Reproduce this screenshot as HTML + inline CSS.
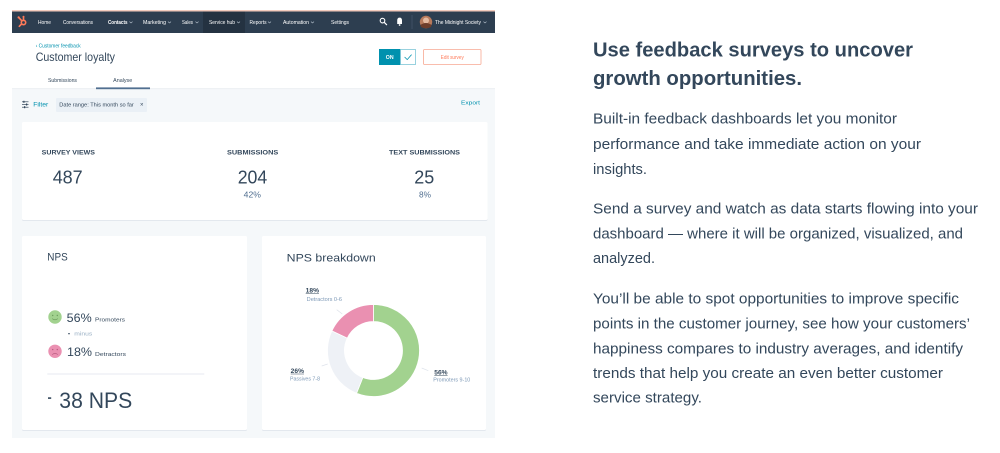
<!DOCTYPE html>
<html><head><meta charset="utf-8">
<style>
html,body{margin:0;padding:0;background:#fff;width:1000px;height:453px;overflow:hidden}
svg{display:block}
text{font-family:"Liberation Sans",Arial,sans-serif}
</style></head>
<body>
<svg width="1000" height="453" viewBox="0 0 1000 453" xmlns="http://www.w3.org/2000/svg">
<rect x="0" y="0" width="1000" height="453" fill="#fff"/>

<!-- ===== Left app screenshot ===== -->
<!-- nav -->
<rect x="12" y="10" width="483" height="1.6" fill="#f3cbbd"/>
<rect x="12" y="11.5" width="483" height="21.5" fill="#2d3e50"/>
<rect x="203" y="11.5" width="42" height="21.5" fill="#243241"/>
<!-- logo -->
<g fill="none" stroke="#ff7a59" stroke-width="1.6" stroke-linecap="round">
  <circle cx="23.5" cy="22.5" r="2.2"/>
  <line x1="21.8" y1="20.8" x2="18.8" y2="17.6"/>
  <line x1="23.5" y1="20.3" x2="23.5" y2="17"/>
  <line x1="21.6" y1="24" x2="19.3" y2="26.3"/>
</g>
<circle cx="18.6" cy="17.4" r="1.1" fill="#ff7a59"/>
<circle cx="23.5" cy="16.7" r="1" fill="#ff7a59"/>
<g fill="#ffffff" font-size="5.6">
  <text x="38" y="23.9" textLength="13" lengthAdjust="spacingAndGlyphs">Home</text>
  <text x="63" y="23.9" textLength="30" lengthAdjust="spacingAndGlyphs">Conversations</text>
  <text x="108" y="23.9" textLength="19.5" lengthAdjust="spacingAndGlyphs" font-weight="bold">Contacts</text>
  <text x="143" y="23.9" textLength="23" lengthAdjust="spacingAndGlyphs">Marketing</text>
  <text x="182" y="23.9" textLength="11" lengthAdjust="spacingAndGlyphs">Sales</text>
  <text x="209" y="23.9" textLength="26" lengthAdjust="spacingAndGlyphs">Service hub</text>
  <text x="249.5" y="23.9" textLength="17" lengthAdjust="spacingAndGlyphs">Reports</text>
  <text x="283" y="23.9" textLength="26" lengthAdjust="spacingAndGlyphs">Automation</text>
  <text x="331" y="23.9" textLength="18" lengthAdjust="spacingAndGlyphs">Settings</text>
  <text x="435" y="23.9" textLength="46" lengthAdjust="spacingAndGlyphs">The Midnight Society</text>
</g>
<g fill="none" stroke="#b8c4d0" stroke-width="0.6">
  <polyline points="129.5,21.6 131,23 132.5,21.6"/>
  <polyline points="168,21.6 169.5,23 171,21.6"/>
  <polyline points="195.5,21.6 197,23 198.5,21.6"/>
  <polyline points="237,21.6 238.5,23 240,21.6"/>
  <polyline points="268,21.6 269.5,23 271,21.6"/>
  <polyline points="311,21.6 312.5,23 314,21.6"/>
  <polyline points="483.5,21.6 485,23 486.5,21.6"/>
</g>
<!-- search / bell / divider / avatar -->
<circle cx="382.5" cy="20.6" r="2.3" fill="none" stroke="#fff" stroke-width="1.1"/>
<line x1="384.2" y1="22.3" x2="386.6" y2="24.7" stroke="#fff" stroke-width="1.2" stroke-linecap="round"/>
<path d="M397.2 24 L397.2 20.5 Q397.2 17.6 399.6 17.6 Q402 17.6 402 20.5 L402 24 Z" fill="#fff"/>
<circle cx="399.6" cy="25" r="0.9" fill="#fff"/>
<line x1="412" y1="15" x2="412" y2="29" stroke="#4b5d71" stroke-width="0.6"/>
<circle cx="426" cy="22" r="6.2" fill="#b77a5c"/>
<circle cx="426" cy="20.5" r="3" fill="#e4b9a0"/>
<path d="M420.5 25 Q426 21 431.5 25 L431 27 Q426 29.5 421 27 Z" fill="#6e3d2b"/>

<!-- header white area -->
<text x="35.7" y="47.4" font-size="5" fill="#0091ae" textLength="45" lengthAdjust="spacingAndGlyphs">‹ Customer feedback</text>
<text x="35.7" y="61" font-size="12" fill="#33475b" textLength="79.3" lengthAdjust="spacingAndGlyphs">Customer loyalty</text>
<!-- toggle -->
<rect x="379" y="49" width="21.5" height="16" fill="#0091ae"/>
<rect x="400.5" y="49.5" width="15" height="15" fill="#fff" stroke="#7fc6d6" stroke-width="0.8"/>
<text x="389.7" y="59" font-size="5.2" font-weight="bold" fill="#fff" text-anchor="middle">ON</text>
<polyline points="404.6,57 407.2,59.6 411.6,54.6" fill="none" stroke="#0091ae" stroke-width="0.8"/>
<!-- edit survey -->
<rect x="423.5" y="49.5" width="57.5" height="15" fill="#fff" stroke="#f7a892" stroke-width="0.8" rx="1"/>
<text x="452.3" y="58.8" font-size="5" fill="#ff7a59" text-anchor="middle" textLength="23" lengthAdjust="spacingAndGlyphs">Edit survey</text>
<!-- tabs -->
<text x="62.5" y="81.8" font-size="5.2" fill="#33475b" text-anchor="middle" textLength="29" lengthAdjust="spacingAndGlyphs">Submissions</text>
<text x="122.7" y="81.8" font-size="5.2" fill="#33475b" text-anchor="middle" textLength="19" lengthAdjust="spacingAndGlyphs">Analyse</text>

<!-- gray app bg -->
<rect x="12" y="89" width="483" height="349" fill="#f5f8fa"/>
<rect x="12" y="88.3" width="483" height="0.8" fill="#e6ebf0"/>
<rect x="96" y="87.4" width="54" height="1.8" fill="#516f90"/>

<!-- filter row -->
<g stroke="#33475b" stroke-width="0.7">
  <line x1="22" y1="101.8" x2="28.5" y2="101.8"/>
  <line x1="22" y1="104.5" x2="28.5" y2="104.5"/>
  <line x1="22" y1="107.2" x2="28.5" y2="107.2"/>
</g>
<g fill="#33475b"><rect x="23.3" y="100.8" width="1.2" height="2"/><rect x="26" y="103.5" width="1.2" height="2"/><rect x="24" y="106.2" width="1.2" height="2"/></g>
<text x="33.3" y="106.5" font-size="6.2" fill="#0091ae" textLength="15" lengthAdjust="spacingAndGlyphs">Filter</text>
<rect x="56" y="98" width="91" height="14" fill="#eaf0f6" rx="1"/>
<text x="59.3" y="106.4" font-size="5.2" fill="#33475b" textLength="74.5" lengthAdjust="spacingAndGlyphs">Date range: This month so far</text>
<text x="141.7" y="106.6" font-size="6" fill="#33475b" text-anchor="middle">×</text>
<text x="461" y="104.6" font-size="5.6" fill="#0091ae" textLength="19" lengthAdjust="spacingAndGlyphs">Export</text>

<!-- cards -->
<g fill="#e3e8ee">
  <rect x="22" y="123" width="465.5" height="98" rx="1.5"/>
  <rect x="22" y="237" width="225" height="194" rx="1.5"/>
  <rect x="262" y="237" width="224" height="194" rx="1.5"/>
</g>
<g fill="#ffffff">
  <rect x="22" y="122" width="465.5" height="98" rx="1.5"/>
  <rect x="22" y="236" width="225" height="194" rx="1.5"/>
  <rect x="262" y="236" width="224" height="194" rx="1.5"/>
</g>

<!-- stats -->
<g fill="#33475b" font-weight="bold" font-size="6.6">
  <text x="41.7" y="154.5" textLength="53.3" lengthAdjust="spacingAndGlyphs">SURVEY VIEWS</text>
  <text x="227" y="154.5" textLength="51.3" lengthAdjust="spacingAndGlyphs">SUBMISSIONS</text>
  <text x="389" y="154.5" textLength="71" lengthAdjust="spacingAndGlyphs">TEXT SUBMISSIONS</text>
</g>
<g fill="#33475b" font-size="18.5">
  <text x="52.7" y="183.4" textLength="30" lengthAdjust="spacingAndGlyphs">487</text>
  <text x="237.7" y="183.4" textLength="29.6" lengthAdjust="spacingAndGlyphs">204</text>
  <text x="414.3" y="183.4" textLength="20" lengthAdjust="spacingAndGlyphs">25</text>
</g>
<g fill="#516f90" font-size="8.5">
  <text x="243.7" y="197.6" textLength="17.3" lengthAdjust="spacingAndGlyphs">42%</text>
  <text x="419" y="197.6" textLength="12" lengthAdjust="spacingAndGlyphs">8%</text>
</g>

<!-- NPS card -->
<text x="47.3" y="260.7" font-size="11.3" fill="#33475b" textLength="20.4" lengthAdjust="spacingAndGlyphs">NPS</text>
<circle cx="55" cy="317" r="6.7" fill="#a2d28f"/>
<circle cx="52.7" cy="315.5" r="0.7" fill="#6c9d5c"/>
<circle cx="57.3" cy="315.5" r="0.7" fill="#6c9d5c"/>
<path d="M52.2 318.6 Q55 321 57.8 318.6" fill="none" stroke="#6c9d5c" stroke-width="0.7"/>
<text x="66.7" y="321.8" font-size="12" fill="#33475b" textLength="25" lengthAdjust="spacingAndGlyphs">56%</text>
<text x="95" y="321.5" font-size="5.6" fill="#33475b" textLength="30" lengthAdjust="spacingAndGlyphs">Promoters</text>
<rect x="68" y="333.3" width="2" height="0.9" fill="#33475b"/>
<text x="74.3" y="335.6" font-size="5.5" fill="#99afc4" textLength="18" lengthAdjust="spacingAndGlyphs">minus</text>
<circle cx="55" cy="351.3" r="6.7" fill="#ea90b1"/>
<circle cx="52.7" cy="349.6" r="0.7" fill="#b95b80"/>
<circle cx="57.3" cy="349.6" r="0.7" fill="#b95b80"/>
<path d="M52.2 354.6 Q55 352.2 57.8 354.6" fill="none" stroke="#b95b80" stroke-width="0.7"/>
<text x="67" y="356.2" font-size="12" fill="#33475b" textLength="25" lengthAdjust="spacingAndGlyphs">18%</text>
<text x="95" y="356" font-size="5.6" fill="#33475b" textLength="31" lengthAdjust="spacingAndGlyphs">Detractors</text>
<line x1="47.3" y1="374" x2="204.3" y2="374" stroke="#dfe3eb" stroke-width="0.8"/>
<rect x="48" y="397.3" width="3.2" height="1.6" fill="#33475b"/>
<text x="59.3" y="408" font-size="22.5" fill="#33475b" textLength="73" lengthAdjust="spacingAndGlyphs">38 NPS</text>

<!-- Donut card -->
<text x="286.7" y="261.3" font-size="11.3" fill="#33475b" textLength="89" lengthAdjust="spacingAndGlyphs">NPS breakdown</text>
<g stroke="#fff" stroke-width="0.8">
  <path d="M373.5 304.5 A46 46 0 1 1 356.57 393.27 L362.83 377.46 A29 29 0 1 0 373.5 321.5 Z" fill="#a2d28f"/>
  <path d="M356.57 393.27 A46 46 0 0 1 331.88 330.91 L347.26 338.15 A29 29 0 0 0 362.83 377.46 Z" fill="#eef1f6"/>
  <path d="M331.88 330.91 A46 46 0 0 1 373.5 304.5 L373.5 321.5 A29 29 0 0 0 347.26 338.15 Z" fill="#ea90b1"/>
</g>
<g stroke="#dfe3eb" stroke-width="0.7">
  <line x1="336.7" y1="309.7" x2="342.3" y2="314"/>
  <line x1="321.7" y1="366" x2="327.7" y2="364"/>
  <line x1="421.7" y1="368" x2="428.3" y2="370.7"/>
</g>
<g font-size="6.3" font-weight="bold" fill="#33475b">
  <text x="305.7" y="292.6" textLength="13.3" lengthAdjust="spacingAndGlyphs">18%</text>
  <text x="290.7" y="373" textLength="13.3" lengthAdjust="spacingAndGlyphs">26%</text>
  <text x="434.3" y="374.6" textLength="13.3" lengthAdjust="spacingAndGlyphs">56%</text>
</g>
<g stroke="#33475b" stroke-width="0.5">
  <line x1="305.7" y1="293.6" x2="319" y2="293.6"/>
  <line x1="290.7" y1="374" x2="304" y2="374"/>
  <line x1="434.3" y1="375.6" x2="447.6" y2="375.6"/>
</g>
<g font-size="5.4" fill="#7c98b6">
  <text x="306.7" y="301" textLength="35.3" lengthAdjust="spacingAndGlyphs">Detractors 0-6</text>
  <text x="290" y="380.4" textLength="30" lengthAdjust="spacingAndGlyphs">Passives 7-8</text>
  <text x="433.3" y="381.6" textLength="37" lengthAdjust="spacingAndGlyphs">Promoters 9-10</text>
</g>

<!-- ===== Right text ===== -->
<g fill="#33475b" font-weight="bold" font-size="20">
  <text x="593" y="56.7" textLength="320" lengthAdjust="spacingAndGlyphs">Use feedback surveys to uncover</text>
  <text x="593" y="85" textLength="209" lengthAdjust="spacingAndGlyphs">growth opportunities.</text>
</g>
<g fill="#33475b" font-size="14.6">
  <text x="593" y="123.3" textLength="304" lengthAdjust="spacingAndGlyphs">Built-in feedback dashboards let you monitor</text>
  <text x="593" y="148.8" textLength="328" lengthAdjust="spacingAndGlyphs">performance and take immediate action on your</text>
  <text x="593" y="174.2" textLength="54" lengthAdjust="spacingAndGlyphs">insights.</text>

  <text x="593" y="213.3" textLength="385" lengthAdjust="spacingAndGlyphs">Send a survey and watch as data starts flowing into your</text>
  <text x="593" y="238.3" textLength="370" lengthAdjust="spacingAndGlyphs">dashboard — where it will be organized, visualized, and</text>
  <text x="593" y="262.8" textLength="62" lengthAdjust="spacingAndGlyphs">analyzed.</text>

  <text x="593" y="303.3" textLength="366" lengthAdjust="spacingAndGlyphs">You’ll be able to spot opportunities to improve specific</text>
  <text x="593" y="328.3" textLength="377" lengthAdjust="spacingAndGlyphs">points in the customer journey, see how your customers’</text>
  <text x="593" y="353.3" textLength="370" lengthAdjust="spacingAndGlyphs">happiness compares to industry averages, and identify</text>
  <text x="593" y="377.8" textLength="350" lengthAdjust="spacingAndGlyphs">trends that help you create an even better customer</text>
  <text x="593" y="402.3" textLength="109" lengthAdjust="spacingAndGlyphs">service strategy.</text>
</g>
</svg>
</body></html>
